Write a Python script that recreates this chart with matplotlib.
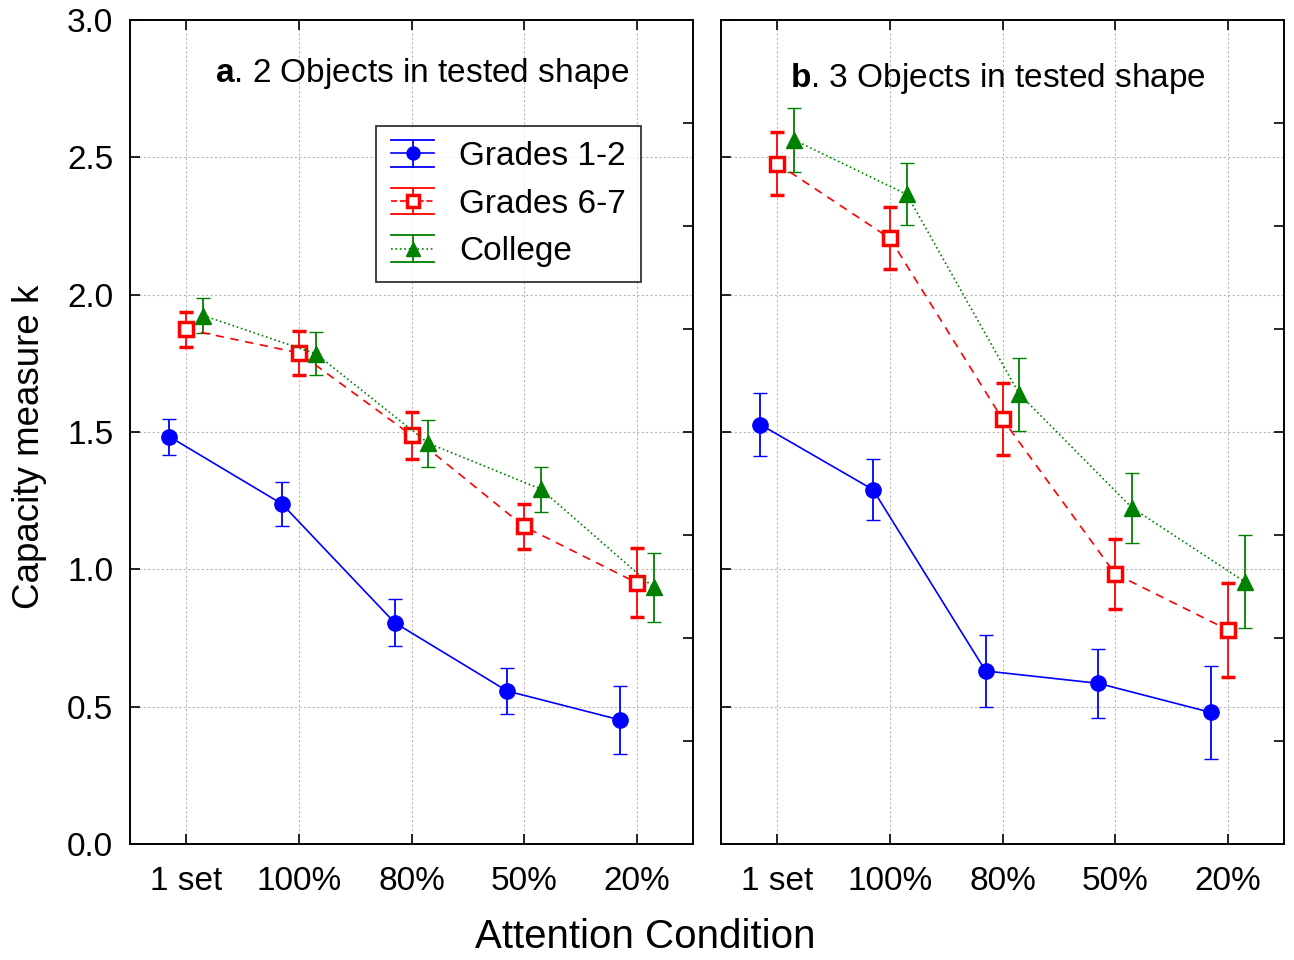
import numpy as np
import matplotlib
matplotlib.use('Agg')
import matplotlib.pyplot as plt
from matplotlib.lines import Line2D
from matplotlib.legend_handler import HandlerBase

plt.rcParams['font.family'] = ['Liberation Sans', 'DejaVu Sans']
plt.rcParams['mathtext.fontset'] = 'custom'
plt.rcParams['mathtext.rm'] = 'Liberation Sans'
plt.rcParams['mathtext.bf'] = 'Liberation Sans:bold'

conditions = ['1 set', '100%', '80%', '50%', '20%']
groups = ['Grades 1-2', 'Grades 6-7', 'College']

# panel a: 2 objects
a_means = {
    'Grades 1-2': [1.483, 1.238, 0.806, 0.557, 0.452],
    'Grades 6-7': [1.874, 1.788, 1.488, 1.156, 0.951],
    'College':    [1.924, 1.785, 1.459, 1.292, 0.934],
}
a_errs = {
    'Grades 1-2': [0.065, 0.079, 0.086, 0.083, 0.124],
    'Grades 6-7': [0.064, 0.079, 0.086, 0.082, 0.125],
    'College':    [0.065, 0.078, 0.086, 0.082, 0.125],
}
# panel b: 3 objects
b_means = {
    'Grades 1-2': [1.527, 1.290, 0.630, 0.585, 0.479],
    'Grades 6-7': [2.477, 2.205, 1.547, 0.984, 0.780],
    'College':    [2.563, 2.365, 1.638, 1.224, 0.955],
}
b_errs = {
    'Grades 1-2': [0.115, 0.111, 0.131, 0.125, 0.170],
    'Grades 6-7': [0.115, 0.113, 0.131, 0.127, 0.171],
    'College':    [0.115, 0.113, 0.133, 0.127, 0.170],
}

styles = {
    'Grades 1-2': dict(color='#0000ff', marker='o', ls='-', ms=11, mfc='#0000ff', mew=1, offset=-0.15),
    'Grades 6-7': dict(color='#ff0000', marker='s', ls=(0, (5, 4)), ms=10, mfc='white', mew=2.5, offset=0.0),
    'College':    dict(color='#008000', marker='^', ls=':', ms=12, mfc='#008000', mew=1, offset=0.15),
}


class ErrHandler(HandlerBase):
    # statistica style legend key: wide caps top and bottom
    def create_artists(self, legend, orig, xd, yd, width, height, fontsize, trans):
        cy = height / 2 - yd
        x0, x1 = -xd, width - xd
        cx = (x0 + x1) / 2
        h = 9.5
        c = orig.get_color()
        arts = []
        for yy in (cy - h, cy + h):
            arts.append(Line2D([x0, x1], [yy, yy], color=c, lw=1.3))
        arts.append(Line2D([cx, cx], [cy - h, cy + h], color=c, lw=1.3))
        arts.append(Line2D([x0, x1], [cy, cy], color=c, lw=1.2, ls=orig.get_linestyle()))
        arts.append(Line2D([cx], [cy], marker=orig.get_marker(), ms=orig.get_markersize() * 0.85,
                           mfc=orig.get_markerfacecolor(), mec=c, mew=orig.get_markeredgewidth(),
                           ls='none'))
        for a in arts:
            a.set_transform(trans)
        return arts


fig = plt.figure(figsize=(12.94, 9.6), dpi=100)
W, H = 1294, 960
ax_a = fig.add_axes([130 / W, 1 - 844 / H, 563 / W, 824 / H])
ax_b = fig.add_axes([721 / W, 1 - 844 / H, 563 / W, 824 / H])

x = np.arange(len(conditions))

for ax, means, errs in [(ax_a, a_means, a_errs), (ax_b, b_means, b_errs)]:
    for g in groups:
        st = styles[g]
        ax.errorbar(x + st['offset'], means[g], yerr=errs[g], color=st['color'],
                    marker=st['marker'], ls=st['ls'], lw=1.2, ms=st['ms'],
                    mfc=st['mfc'], mec=st['color'], mew=st['mew'],
                    capsize=5, capthick=1.3, elinewidth=1.3, zorder=3)
    ax.set_xlim(-0.5, 4.5)
    ax.set_ylim(0, 3)
    ax.set_xticks(x)
    ax.set_xticklabels(conditions)
    ax.set_yticks(np.arange(0, 3.01, 0.5))
    ax.grid(True, color='#b8b8b8', ls=(0, (2, 2)), lw=0.8)
    ax.set_axisbelow(True)
    ax.tick_params(direction='in', length=7, width=1.2, top=True, labelsize=24, pad=12)
    ax.tick_params(axis='x', pad=15.5)
    for s in ax.spines.values():
        s.set_linewidth(1.2)
    twin = ax.twinx()
    twin.set_ylim(0, 3)
    twin.set_yticks(np.arange(0.375, 3.0, 0.375))
    twin.tick_params(direction='in', length=7, width=1.2, labelright=False)
    for s in twin.spines.values():
        s.set_linewidth(1.2)

ax_a.set_yticklabels(['%.1f' % v for v in np.arange(0, 3.01, 0.5)])
ax_b.tick_params(labelleft=False)

ax_a.text(0.151, 0.935, r'$\mathbf{a}$. 2 Objects in tested shape', transform=ax_a.transAxes,
          fontsize=24, ha='left', va='center')
ax_b.text(0.1226, 0.929, r'$\mathbf{b}$. 3 Objects in tested shape', transform=ax_b.transAxes,
          fontsize=24, ha='left', va='center')

proxies = []
for g in groups:
    st = styles[g]
    proxies.append(Line2D([], [], color=st['color'], marker=st['marker'], ls=st['ls'],
                          ms=st['ms'], mfc=st['mfc'], mew=st['mew']))
leg = ax_a.legend(proxies, groups, loc='upper left', bbox_to_anchor=(246 / 563, 1 - 106 / 824),
                  borderaxespad=0, fontsize=24, frameon=True, fancybox=False, edgecolor='black',
                  handlelength=1.3, borderpad=0.45, labelspacing=0.5, handletextpad=0.75,
                  handler_map={Line2D: ErrHandler()})
leg.get_frame().set_linewidth(1.3)

fig.text(30 / W, 1 - 447 / H, 'Capacity measure k', rotation=90, fontsize=26.5,
         ha='center', va='center')
fig.text(645 / W, 1 - 937 / H, 'Attention Condition', fontsize=29,
         ha='center', va='center')

fig.savefig('out.png', dpi=100)
